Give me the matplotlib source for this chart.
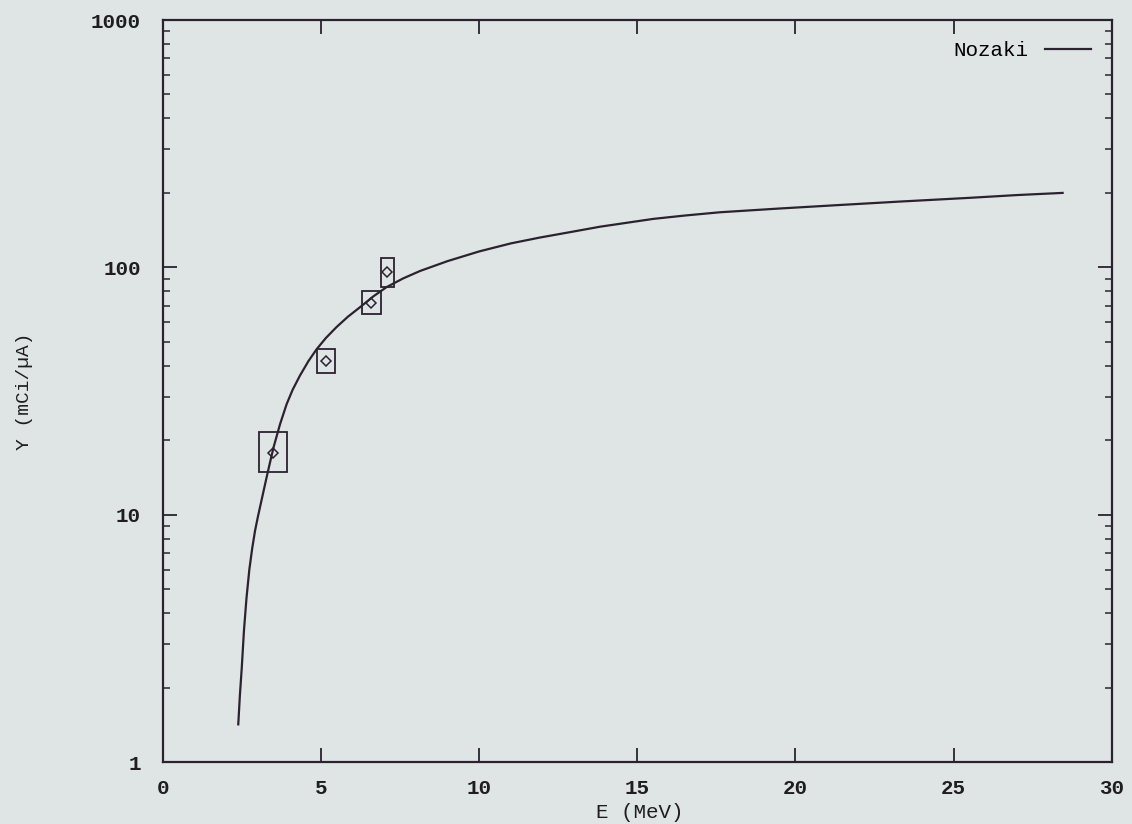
import numpy as np
import matplotlib
matplotlib.use("Agg")
import matplotlib.pyplot as plt
from matplotlib.patches import Rectangle

# Nozaki curve
kurve_E = [2.38, 2.43, 2.49, 2.56, 2.64, 2.73, 2.82, 2.91, 3.0, 3.1, 3.2, 3.3, 3.4, 3.5,
           3.7, 3.91, 4.1, 4.33, 4.6, 4.86, 5.15, 5.49, 5.85, 6.23, 6.65, 7.07, 7.6,
           8.13, 9.0, 10.0, 11.0, 11.92, 12.9, 13.82, 15.5, 16.5, 17.61, 19.51,
           21.5, 23.3, 25.5, 27.0, 28.45]
kurve_Y = [1.42, 1.85, 2.4, 3.4, 4.6, 6.0, 7.3, 8.6, 9.8, 11.2, 12.8, 14.6, 16.6, 18.8,
           23.2, 28.0, 32.0, 36.5, 41.8, 46.7, 51.8, 57.4, 63.2, 69.0, 76.3, 83.2, 90.3,
           96.7, 106.0, 116.0, 125.0, 132.0, 139.0, 146.0, 157.0, 162.0, 167.0, 173.0,
           179.0, 184.5, 191.0, 196.0, 200.0]

# Messpunkte
punkte_E = [3.49, 5.16, 6.58, 7.09]
punkte_Y = [17.8, 42.0, 71.5, 95.5]
fehler_E = [0.44, 0.28, 0.30, 0.20]
Y_unten = [14.9, 37.4, 64.9, 83.2]
Y_oben = [21.6, 46.8, 80.3, 109.0]

x_ticks = [0, 5, 10, 15, 20, 25, 30]
y_ticks = [1, 10, 100, 1000]

papier = "#dfe5e4"
tinte = "#2b2230"
schrift = "Liberation Mono"

fig = plt.figure(figsize=(11.32, 8.24), dpi=100, facecolor=papier)
ax = fig.add_axes([0.144, 0.0752, 0.838, 0.9005], facecolor=papier)

ax.plot(kurve_E, kurve_Y, color=tinte, lw=1.6, label="Nozaki", solid_joinstyle="round")

for e, y, de, yu, yo in zip(punkte_E, punkte_Y, fehler_E, Y_unten, Y_oben):
    ax.add_patch(Rectangle((e - de, yu), 2 * de, yo - yu, fill=False,
                           edgecolor=tinte, lw=1.3))
ax.plot(punkte_E, punkte_Y, ls="none", marker="D", ms=5, mfc="none",
        mec=tinte, mew=1.1)

ax.set_yscale("log")
ax.set_xlim(0, 30)
ax.set_ylim(1, 1000)
ax.set_xticks(x_ticks)
ax.set_xticklabels([str(t) for t in x_ticks])
ax.set_yticks(y_ticks)
ax.set_yticklabels([str(t) for t in y_ticks])

ax.tick_params(axis="both", which="major", direction="in", length=10, width=1.3,
               top=True, right=True, colors=tinte, labelcolor="#1e1e1e")
ax.tick_params(axis="y", which="minor", direction="in", length=5, width=1.1,
               right=True, colors=tinte)
ax.tick_params(axis="x", which="major", pad=12)
ax.tick_params(axis="y", which="major", pad=16)
for lab in ax.get_xticklabels() + ax.get_yticklabels():
    lab.set_fontfamily(schrift)
    lab.set_fontsize(15)
    lab.set_fontweight("bold")

for s in ax.spines.values():
    s.set_color(tinte)
    s.set_linewidth(1.6)

ax.set_xlabel("E (MeV)", family=schrift, fontsize=15, color="#1e1e1e")
ax.xaxis.set_label_coords(0.503, -0.055)
ax.set_ylabel("Y (mCi/µA)", family=schrift, fontsize=14, color="#1e1e1e")
ax.yaxis.set_label_coords(-0.137, 0.5)

ax.legend(loc="upper right", frameon=False, markerfirst=False, handlelength=2.2,
          prop={"family": schrift, "size": 15}, borderaxespad=0.6)

fig.savefig("out.png", dpi=100, facecolor=papier)
